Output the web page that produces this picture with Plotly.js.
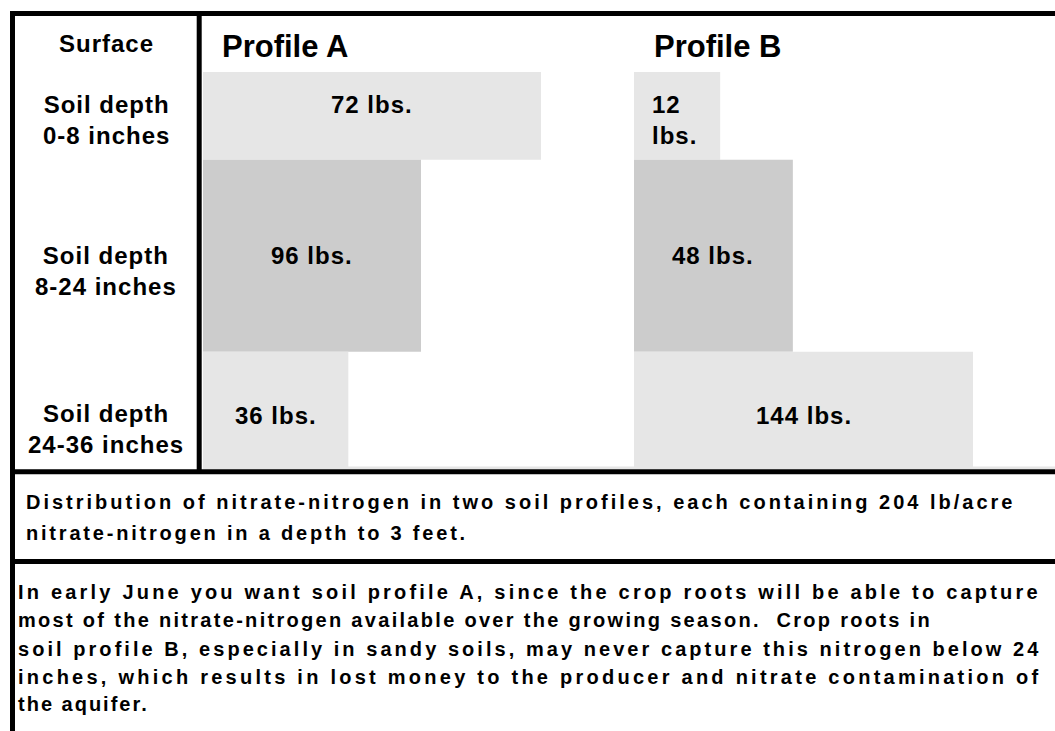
<!DOCTYPE html>
<html>
<head>
<meta charset="utf-8">
<script src="https://cdn.plot.ly/plotly-3.0.1.min.js"></script>
<style>
  html, body { margin: 0; padding: 0; background: #ffffff; }
  #chart { width: 1055px; height: 731px; }
  /* letter spacing for 24px labels; selector also matches Plotly's text-measuring clones */
  .annotation-text[style*="font-size: 24px"] { letter-spacing: 1px; }
</style>
</head>
<body>
<div id="chart"></div>
<script>
// ---------------- DATA ----------------
const profileNames = ['Profile A', 'Profile B'];
const surfaceLabel = 'Surface';
const rowLabels = ['Soil depth<br>0-8 inches', 'Soil depth<br>8-24 inches', 'Soil depth<br>24-36 inches'];
// drawn thickness of each soil band (visual depth units, total 36)
const bandHeights = [8, 17.5, 10.5];
// drawn bar lengths (relative units, Profile A top bar = 100)
const profileALengths = [100, 64.5, 43];
const profileBLengths = [25.5, 47, 100.3];
const profileALabels = ['72 lbs.', '96 lbs.', '36 lbs.'];
const profileBLabels = ['12<br>lbs.', '48 lbs.', '144 lbs.'];
const captionLines = [
  'Distribution of nitrate-nitrogen in two soil profiles, each containing 204 lb/acre',
  'nitrate-nitrogen in a depth to 3 feet.'
];
const noteLines = [
  'In early June you want soil profile A, since the crop roots will be able to capture',
  'most of the nitrate-nitrogen available over the growing season.  Crop roots in',
  'soil profile B, especially in sandy soils, may never capture this nitrogen below 24',
  'inches, which results in lost money to the producer and nitrate contamination of',
  'the aquifer.'
];

// ---------------- LAYOUT / STYLE ----------------
const W = 1055, H = 731;
const px = x => x / W;
const py = y => 1 - y / H;
const FONT = 'Liberation Sans, Arial, Helvetica, sans-serif';
const bandColors = ['#e6e6e6', '#cccccc', '#e6e6e6'];
const pxPerUnit = 3.38;
const plotTop = 72, plotBottom = 467;
const axALeft = 203, axBLeft = 634;
// tracking of each text line as it appears in the picture
const captionTracking = [3.0, 2.8];
const noteTracking = [3.2, 2.3, 3.05, 3.25, 2.0];

// band centres in data units
const bandCenters = [];
let acc = 0;
bandHeights.forEach(h => { bandCenters.push(acc + h / 2); acc += h; });
const totalDepth = acc;

const traces = [
  {
    type: 'bar', orientation: 'h', xaxis: 'x', yaxis: 'y',
    x: profileALengths, y: bandCenters, width: bandHeights, base: 0,
    marker: { color: bandColors, line: { width: 0 } },
    hoverinfo: 'skip', showlegend: false
  },
  {
    type: 'bar', orientation: 'h', xaxis: 'x2', yaxis: 'y',
    x: profileBLengths, y: bandCenters, width: bandHeights, base: 0,
    marker: { color: bandColors, line: { width: 0 } },
    hoverinfo: 'skip', showlegend: false
  }
];

const annotations = [];
// profile titles
[axALeft + 17, axBLeft + 18].forEach((x, i) => {
  annotations.push({
    xref: 'paper', yref: 'paper', x: px(x), y: py(46), xanchor: 'left', yanchor: 'middle',
    text: profileNames[i], showarrow: false,
    font: { family: FONT, size: 31, color: '#000', weight: 'bold' }
  });
});
// surface label
annotations.push({
  xref: 'paper', yref: 'paper', x: px(106), y: py(43.5), xanchor: 'center', yanchor: 'middle',
  text: surfaceLabel, showarrow: false,
  font: { family: FONT, size: 24, color: '#000', weight: 'bold' }
});
// row labels
const rowLabelShift = [-4, -15, -20];
rowLabels.forEach((t, i) => {
  annotations.push({
    xref: 'paper', yref: 'y', x: px(106), y: bandCenters[i], yshift: rowLabelShift[i],
    xanchor: 'center', yanchor: 'middle', align: 'center',
    text: t, showarrow: false,
    font: { family: FONT, size: 24, color: '#000', weight: 'bold' }
  });
});
// bar value labels
const valueShift = [11, 0, -6.5];
profileALabels.forEach((t, i) => {
  annotations.push({
    xref: 'x', yref: 'y', x: profileALengths[i] / 2, y: bandCenters[i], yshift: valueShift[i],
    xanchor: 'center', yanchor: 'middle', text: t, showarrow: false,
    font: { family: FONT, size: 24, color: '#000', weight: 'bold' }
  });
});
profileBLabels.forEach((t, i) => {
  const multi = t.indexOf('<br>') >= 0;
  annotations.push({
    xref: 'x2', yref: 'y', x: multi ? 0 : profileBLengths[i] / 2, xshift: multi ? 16 : 0,
    y: bandCenters[i], yshift: multi ? -4.5 : valueShift[i],
    xanchor: multi ? 'left' : 'center', align: multi ? 'left' : 'center',
    yanchor: 'middle', text: t, showarrow: false,
    font: { family: FONT, size: 24, color: '#000', weight: 'bold' }
  });
});
const tracked = (t, s) => `<span style="letter-spacing:${s}px">${t}</span>`;
const captionY = [502, 533];
captionLines.forEach((t, i) => {
  annotations.push({
    xref: 'paper', yref: 'paper', x: px(24), y: py(captionY[i]), xanchor: 'left', yanchor: 'middle',
    text: tracked(t, captionTracking[i]), showarrow: false,
    font: { family: FONT, size: 20, color: '#000', weight: 'bold' }
  });
});
const noteY = [592, 620, 649, 677, 704];
noteLines.forEach((t, i) => {
  annotations.push({
    xref: 'paper', yref: 'paper', x: px(16), y: py(noteY[i]), xanchor: 'left', yanchor: 'middle',
    text: tracked(t, noteTracking[i]), showarrow: false,
    font: { family: FONT, size: 20, color: '#000', weight: 'bold' }
  });
});

const line = (x0, y0, x1, y1, w, c, layer) => ({
  type: 'line', xref: 'paper', yref: 'paper', x0: px(x0), y0: py(y0), x1: px(x1), y1: py(y1),
  line: { color: c || '#000', width: w }, layer: layer || 'above'
});
const shapes = [
  line(axALeft, 468, W, 468, 3, '#e6e6e6', 'below'),
  line(10, 13.5, W, 13.5, 5),
  line(12.5, 11, 12.5, H, 5),
  line(199.2, 11, 199.2, 474, 5),
  line(10, 471.8, W, 471.8, 5),
  line(10, 561.5, W, 561.5, 5)
];

const hiddenAxis = { visible: false, showgrid: false, zeroline: false, fixedrange: true };
const layout = {
  width: W, height: H,
  margin: { l: 0, r: 0, t: 0, b: 0, pad: 0 },
  paper_bgcolor: '#ffffff', plot_bgcolor: 'rgba(0,0,0,0)',
  barmode: 'overlay', showlegend: false,
  xaxis: Object.assign({}, hiddenAxis, { domain: [px(axALeft), 1], range: [0, (W - axALeft) / pxPerUnit], anchor: 'y' }),
  xaxis2: Object.assign({}, hiddenAxis, { domain: [px(axBLeft), 1], range: [0, (W - axBLeft) / pxPerUnit], anchor: 'y' }),
  yaxis: Object.assign({}, hiddenAxis, { domain: [py(plotBottom), py(plotTop)], range: [totalDepth, 0], anchor: 'x' }),
  annotations: annotations,
  shapes: shapes
};

Plotly.newPlot('chart', traces, layout, { staticPlot: true, displayModeBar: false });
</script>
</body>
</html>
